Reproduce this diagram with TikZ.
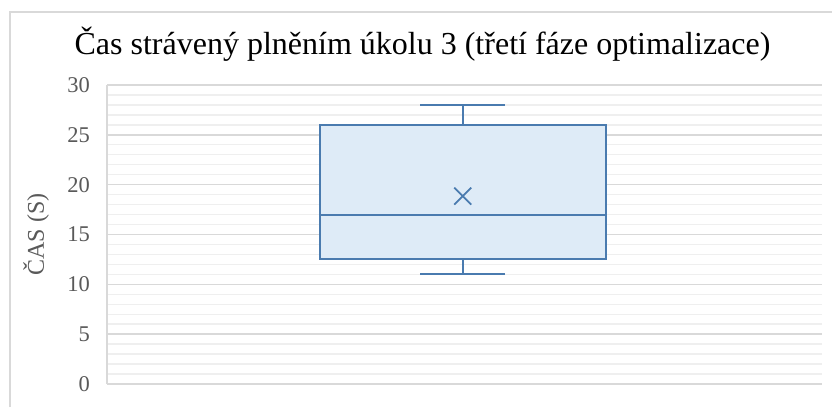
\documentclass[tikz,border=0pt]{standalone}
\usepackage{fontspec}
\setmainfont{Liberation Serif}

\definecolor{gridmajor}{HTML}{D9D9D9}
\definecolor{gridminor}{HTML}{EFEFEF}
\definecolor{ticktext}{HTML}{595959}
\definecolor{boxline}{HTML}{4A7BAF}
\definecolor{boxfill}{HTML}{DEEBF7}

\begin{document}
\begin{tikzpicture}[
  x=1pt, y=1pt,
  majorline/.style={draw=gridmajor, line width=1.5pt},
  minorline/.style={draw=gridminor, line width=1.4pt},
  ticklabel/.style={anchor=east, inner sep=0pt, text=ticktext, font=\fontsize{22.5}{26}\selectfont},
  boxpart/.style={draw=boxline, line width=2pt}
  ]

\useasboundingbox (0,0) rectangle (832,407);

% Chart frame
\draw[gridmajor, line width=1.2pt] (10,0) -- (10,395) -- (832,395);

% Title
\node[anchor=base, inner sep=0pt, font=\fontsize{32}{38}\selectfont] (title) at (422.5,352)
  {Čas strávený plněním úkolu 3 (třetí fáze optimalizace)};

% Axis title
\node[rotate=90, inner sep=0pt, text=ticktext, font=\fontsize{24}{28}\selectfont] (ytitle) at (36,172.5) {ČAS (S)};

\begin{scope}[yshift=23pt, y=9.967pt]
  % Minor grid
  \foreach \v in {1,...,29} {
    \draw[minorline] (107,\v) -- (822,\v);
  }
  % Major grid and labels
  \foreach \v in {0,5,...,30} {
    \draw[majorline] (107,\v) -- (822,\v);
    \node[ticklabel] (tick\v) at (90,\v) {\v};
  }
  \draw[majorline] (107,0) -- (107,30);

  % Whiskers
  \coordinate (wtop) at (462.7,28);
  \coordinate (wbot) at (462.7,11);
  \draw[boxpart] (420,28) -- (505,28);
  \draw[boxpart] (420,11) -- (505,11);
  \draw[boxpart] (wtop) -- (462.7,26);
  \draw[boxpart] (wbot) -- (462.7,12.5);

  % Box
  \draw[boxpart, fill=boxfill] (320,12.5) rectangle (605.7,26);
  \draw[boxpart] (320,17) -- (605.7,17);

  % Mean
  \draw[boxpart, line width=1.7pt] (454.2,18) -- (471.2,19.7)
    (454.2,19.7) -- (471.2,18);
\end{scope}

\end{tikzpicture}
\end{document}
